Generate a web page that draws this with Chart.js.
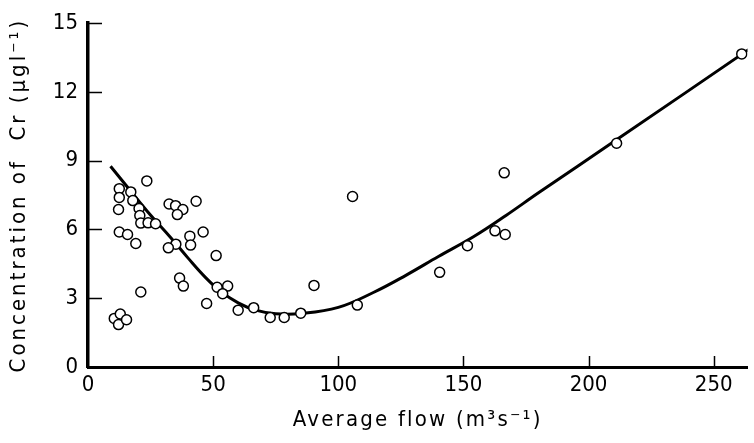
<html><head>
<title>Cr concentration vs average flow</title>
<script src="https://cdn.jsdelivr.net/npm/chart.js"></script>
<style>
  body { margin: 0; padding: 0; background: #fff; }
  #wrap { width: 754px; height: 443px; }
</style>
</head>
<body>
<div id="wrap"><canvas id="crChart" width="754" height="443"></canvas></div>
<script>
// observed samples (flow m3/s, Cr ug/l)
const flowObs = [12.5, 12.5, 12.2, 17.1, 17.9, 23.5, 20.4, 20.7, 21.1, 24.0, 27.0, 12.5, 15.8, 19.1,
  21.1, 10.5, 12.9, 12.2, 15.4, 32.4, 35.0, 37.9, 35.7, 43.2, 40.7, 41.0, 46.0, 35.1, 32.1, 51.2,
  36.6, 38.1, 51.6, 55.8, 53.8, 47.4, 60.0, 66.2, 72.8, 78.4, 85.0, 90.3, 105.7, 107.6, 140.5,
  151.6, 162.6, 166.7, 166.3, 211.2, 261.2];
const crObs = [7.78, 7.4, 6.87, 7.64, 7.26, 8.12, 6.92, 6.61, 6.28, 6.29, 6.25, 5.89, 5.78, 5.39,
  3.27, 2.12, 2.31, 1.85, 2.06, 7.11, 7.04, 6.87, 6.65, 7.23, 5.71, 5.32, 5.89, 5.36, 5.2, 4.86,
  3.88, 3.53, 3.48, 3.53, 3.2, 2.77, 2.48, 2.59, 2.16, 2.16, 2.35, 3.56, 7.44, 2.7, 4.13,
  5.29, 5.94, 5.78, 8.47, 9.76, 13.66];

// fitted curve
const flowFit = [9, 15, 24, 33, 40, 47, 53, 60, 67, 75, 85, 100, 114, 127, 140, 154, 167, 180, 211, 266];
const crFit = [8.76, 7.95, 6.75, 5.65, 4.75, 3.9, 3.3, 2.8, 2.48, 2.32, 2.33, 2.6, 3.25, 4.0, 4.82, 5.68, 6.61, 7.6, 9.9, 14.0];

const xTicks = [0, 50, 100, 150, 200, 250];
const yTicks = [0, 3, 6, 9, 12, 15];

const FONT = '"DejaVu Sans Condensed", "Liberation Sans Narrow", "DejaVu Sans", sans-serif';

// small tick marks pointing into the plot, like the original figure
const innerTicks = {
  id: 'innerTicks',
  afterDatasetsDraw(chart) {
    const {ctx, scales: {x, y}, chartArea} = chart;
    ctx.save();
    ctx.strokeStyle = '#000';
    ctx.lineWidth = 1.5;
    ctx.beginPath();
    yTicks.slice(1).forEach(v => {
      const py = Math.round(y.getPixelForValue(v)) + 0.5;
      ctx.moveTo(chartArea.left, py);
      ctx.lineTo(chartArea.left + 14, py);
    });
    xTicks.slice(1).forEach(v => {
      const px = Math.round(x.getPixelForValue(v)) + 0.5;
      ctx.moveTo(px, chartArea.bottom);
      ctx.lineTo(px, chartArea.bottom - 11);
    });
    ctx.stroke();
    ctx.restore();
  }
};

const white = {
  id: 'white',
  beforeDraw(chart) {
    const ctx = chart.ctx;
    ctx.save();
    ctx.fillStyle = '#fff';
    ctx.fillRect(0, 0, chart.width, chart.height);
    ctx.restore();
  }
};

// the axis titles in the figure are widely spaced
function spacedTitle(s, spacing) {
  if (s._spaced) return;
  s._spaced = true;
  const orig = s.drawTitle;
  s.drawTitle = function () {
    const ctx = this.ctx;
    ctx.letterSpacing = spacing;
    orig.apply(this, arguments);
    ctx.letterSpacing = '0px';
  };
}

new Chart(document.getElementById('crChart'), {
  type: 'scatter',
  data: {
    datasets: [{
      label: 'Samples',
      data: flowObs.map((f, i) => ({x: f, y: crObs[i]})),
      pointRadius: 5,
      pointBorderWidth: 1.5,
      pointBorderColor: '#000',
      pointBackgroundColor: '#fff',
      order: 0
    }, {
      label: 'Fit',
      type: 'line',
      data: flowFit.map((f, i) => ({x: f, y: crFit[i]})),
      borderColor: '#000',
      borderWidth: 3,
      pointRadius: 0,
      tension: 0.4,
      fill: false,
      order: 1
    }]
  },
  options: {
    responsive: false,
    animation: false,
    layout: { padding: { left: 0, right: 4, top: 18, bottom: 0 } },
    plugins: { legend: { display: false }, tooltip: { enabled: false } },
    scales: {
      x: {
        type: 'linear',
        min: 0,
        max: 263.5,
        afterFit(s) { s.height = 76; spacedTitle(s, '2.2px'); },
        afterBuildTicks(s) { s.ticks = xTicks.map(v => ({value: v})); },
        ticks: { includeBounds: false, padding: 5, maxRotation: 0, color: '#000',
          font: { family: FONT, size: 22 } },
        grid: { display: true, drawOnChartArea: false, drawTicks: false },
        border: { display: true, color: '#000', width: 3 },
        title: { display: true, text: 'Average flow (m³s⁻¹)', color: '#000',
          font: { family: FONT, size: 22 }, padding: { top: 0, bottom: 10 } }
      },
      y: {
        type: 'linear',
        min: 0,
        max: 15,
        afterFit(s) { s.width = 88; spacedTitle(s, '3px'); },
        afterBuildTicks(s) { s.ticks = yTicks.map(v => ({value: v})); },
        ticks: { padding: 10, color: '#000', font: { family: FONT, size: 22 } },
        grid: { display: true, drawOnChartArea: false, drawTicks: false },
        border: { display: true, color: '#000', width: 3.5 },
        title: { display: true, text: 'Concentration of  Cr (µgl⁻¹)', color: '#000',
          font: { family: FONT, size: 22 }, padding: { top: 6, bottom: 0 } }
      }
    }
  },
  plugins: [white, innerTicks]
});
</script>
</body></html>
